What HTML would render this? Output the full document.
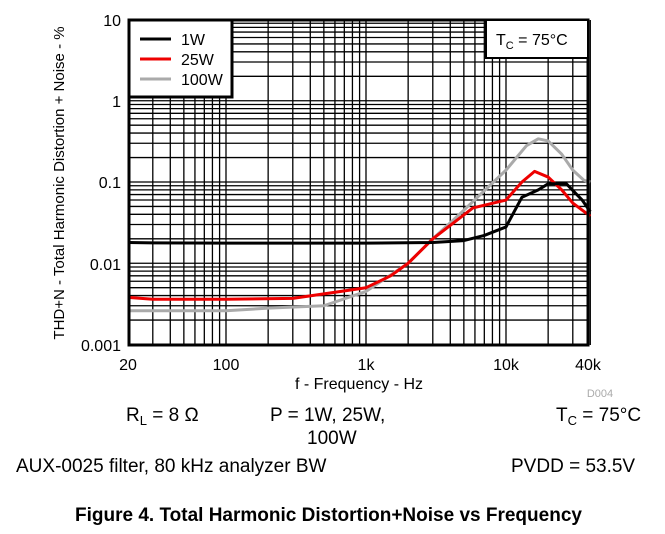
<!DOCTYPE html>
<html><head><meta charset="utf-8"><style>
body{margin:0;background:#fff;width:665px;height:529px;overflow:hidden;font-family:"Liberation Sans",Arial,sans-serif}
svg text{font-family:"Liberation Sans",Arial,sans-serif}
</style></head><body>
<svg id="s" width="665" height="529" xmlns="http://www.w3.org/2000/svg">
<g id="grid" stroke="#000" stroke-width="1.3"></g>
<g id="curves" fill="none" stroke-width="3" stroke-linejoin="round"></g>
<rect x="129" y="20" width="459" height="325" fill="none" stroke="#000" stroke-width="3"/>
<rect x="129" y="20" width="103" height="77" fill="#fff" stroke="#000" stroke-width="3"/>
<line x1="140" y1="39" x2="171" y2="39" stroke="#000" stroke-width="3"/>
<line x1="140" y1="59" x2="171" y2="59" stroke="#e00" stroke-width="3"/>
<line x1="140" y1="79" x2="171" y2="79" stroke="#aaa" stroke-width="3"/>
<text x="181" y="45" font-size="16">1W</text>
<text x="181" y="65" font-size="16">25W</text>
<text x="181" y="85" font-size="16">100W</text>
<rect x="486" y="20" width="102" height="38" fill="#fff" stroke="#000" stroke-width="2"/>
<text x="496" y="45" font-size="16">T<tspan font-size="11" dy="4">C</tspan><tspan dy="-4"> = 75°C</tspan></text>
<g font-size="16" text-anchor="end">
<text x="121" y="26">10</text><text x="121" y="107">1</text><text x="121" y="188">0.1</text>
<text x="121" y="270">0.01</text><text x="121" y="351">0.001</text></g>
<g font-size="16" text-anchor="middle">
<text x="128" y="370">20</text><text x="226" y="370">100</text><text x="366" y="370">1k</text>
<text x="506" y="370">10k</text><text x="588" y="370">40k</text>
<text x="359" y="389">f - Frequency - Hz</text></g>
<text x="600" y="397" font-size="11" fill="#aaa" text-anchor="middle">D004</text>
<text transform="translate(64,183) rotate(-90)" font-size="15" text-anchor="middle">THD+N - Total Harmonic Distortion + Noise - %</text>
<g font-size="19">
<text x="126" y="421">R<tspan font-size="13" dy="4">L</tspan><tspan dy="-4"> = 8 Ω</tspan></text>
<text x="270" y="421">P = 1W, 25W,</text>
<text x="307" y="444">100W</text>
<text x="556" y="421">T<tspan font-size="13" dy="4">C</tspan><tspan dy="-4"> = 75°C</tspan></text>
<text x="16" y="472">AUX-0025 filter, 80 kHz analyzer BW</text>
<text x="511" y="472">PVDD = 53.5V</text></g>
<text x="75" y="521" font-size="19" font-weight="bold">Figure 4. Total Harmonic Distortion+Noise vs Frequency</text>
</svg>
<script>
var X=f=>226+140*Math.log10(f/100), Y=v=>182-81.25*Math.log10(v/0.1);
var g=document.getElementById('grid'),h='';
[10,100,1000,10000].forEach(d=>{for(var m=1;m<10;m++){var f=d*m;if(f<20||f>40000)continue;var x=X(f);h+=`<line x1="${x}" y1="20" x2="${x}" y2="345"/>`;}});
[0.001,0.01,0.1,1].forEach(d=>{for(var m=1;m<10;m++){var y=Y(d*m);h+=`<line x1="129" y1="${y}" x2="588" y2="${y}"/>`;}});
g.innerHTML=h;
var data=[["#aaa",[[20,.0026],[100,.0026],[200,.0028],[500,.003],[1000,.0045],[2000,.01],[3000,.02],[5000,.045],[10000,.14],[14000,.28],[17000,.34],[20000,.32],[25000,.22],[30000,.14],[36000,.105],[40000,.1]]],
["#e00",[[20,.0038],[30,.0036],[100,.0036],[300,.0037],[500,.0042],[1000,.005],[1500,.007],[2000,.01],[3000,.02],[5800,.048],[10000,.06],[13000,.1],[16000,.135],[20000,.115],[25000,.08],[30000,.055],[40000,.038]]],
["#000",[[20,.018],[30,.0178],[100,.0177],[1000,.0177],[3000,.018],[5000,.019],[7000,.022],[10000,.028],[13000,.065],[17000,.08],[20000,.095],[27000,.095],[35000,.06],[40000,.043]]]];
var c='';data.forEach(d=>{c+=`<polyline stroke="${d[0]}" points="${d[1].map(p=>X(p[0])+','+Y(p[1])).join(' ')}"/>`;});
document.getElementById('curves').innerHTML=c;
</script>
</body></html>
